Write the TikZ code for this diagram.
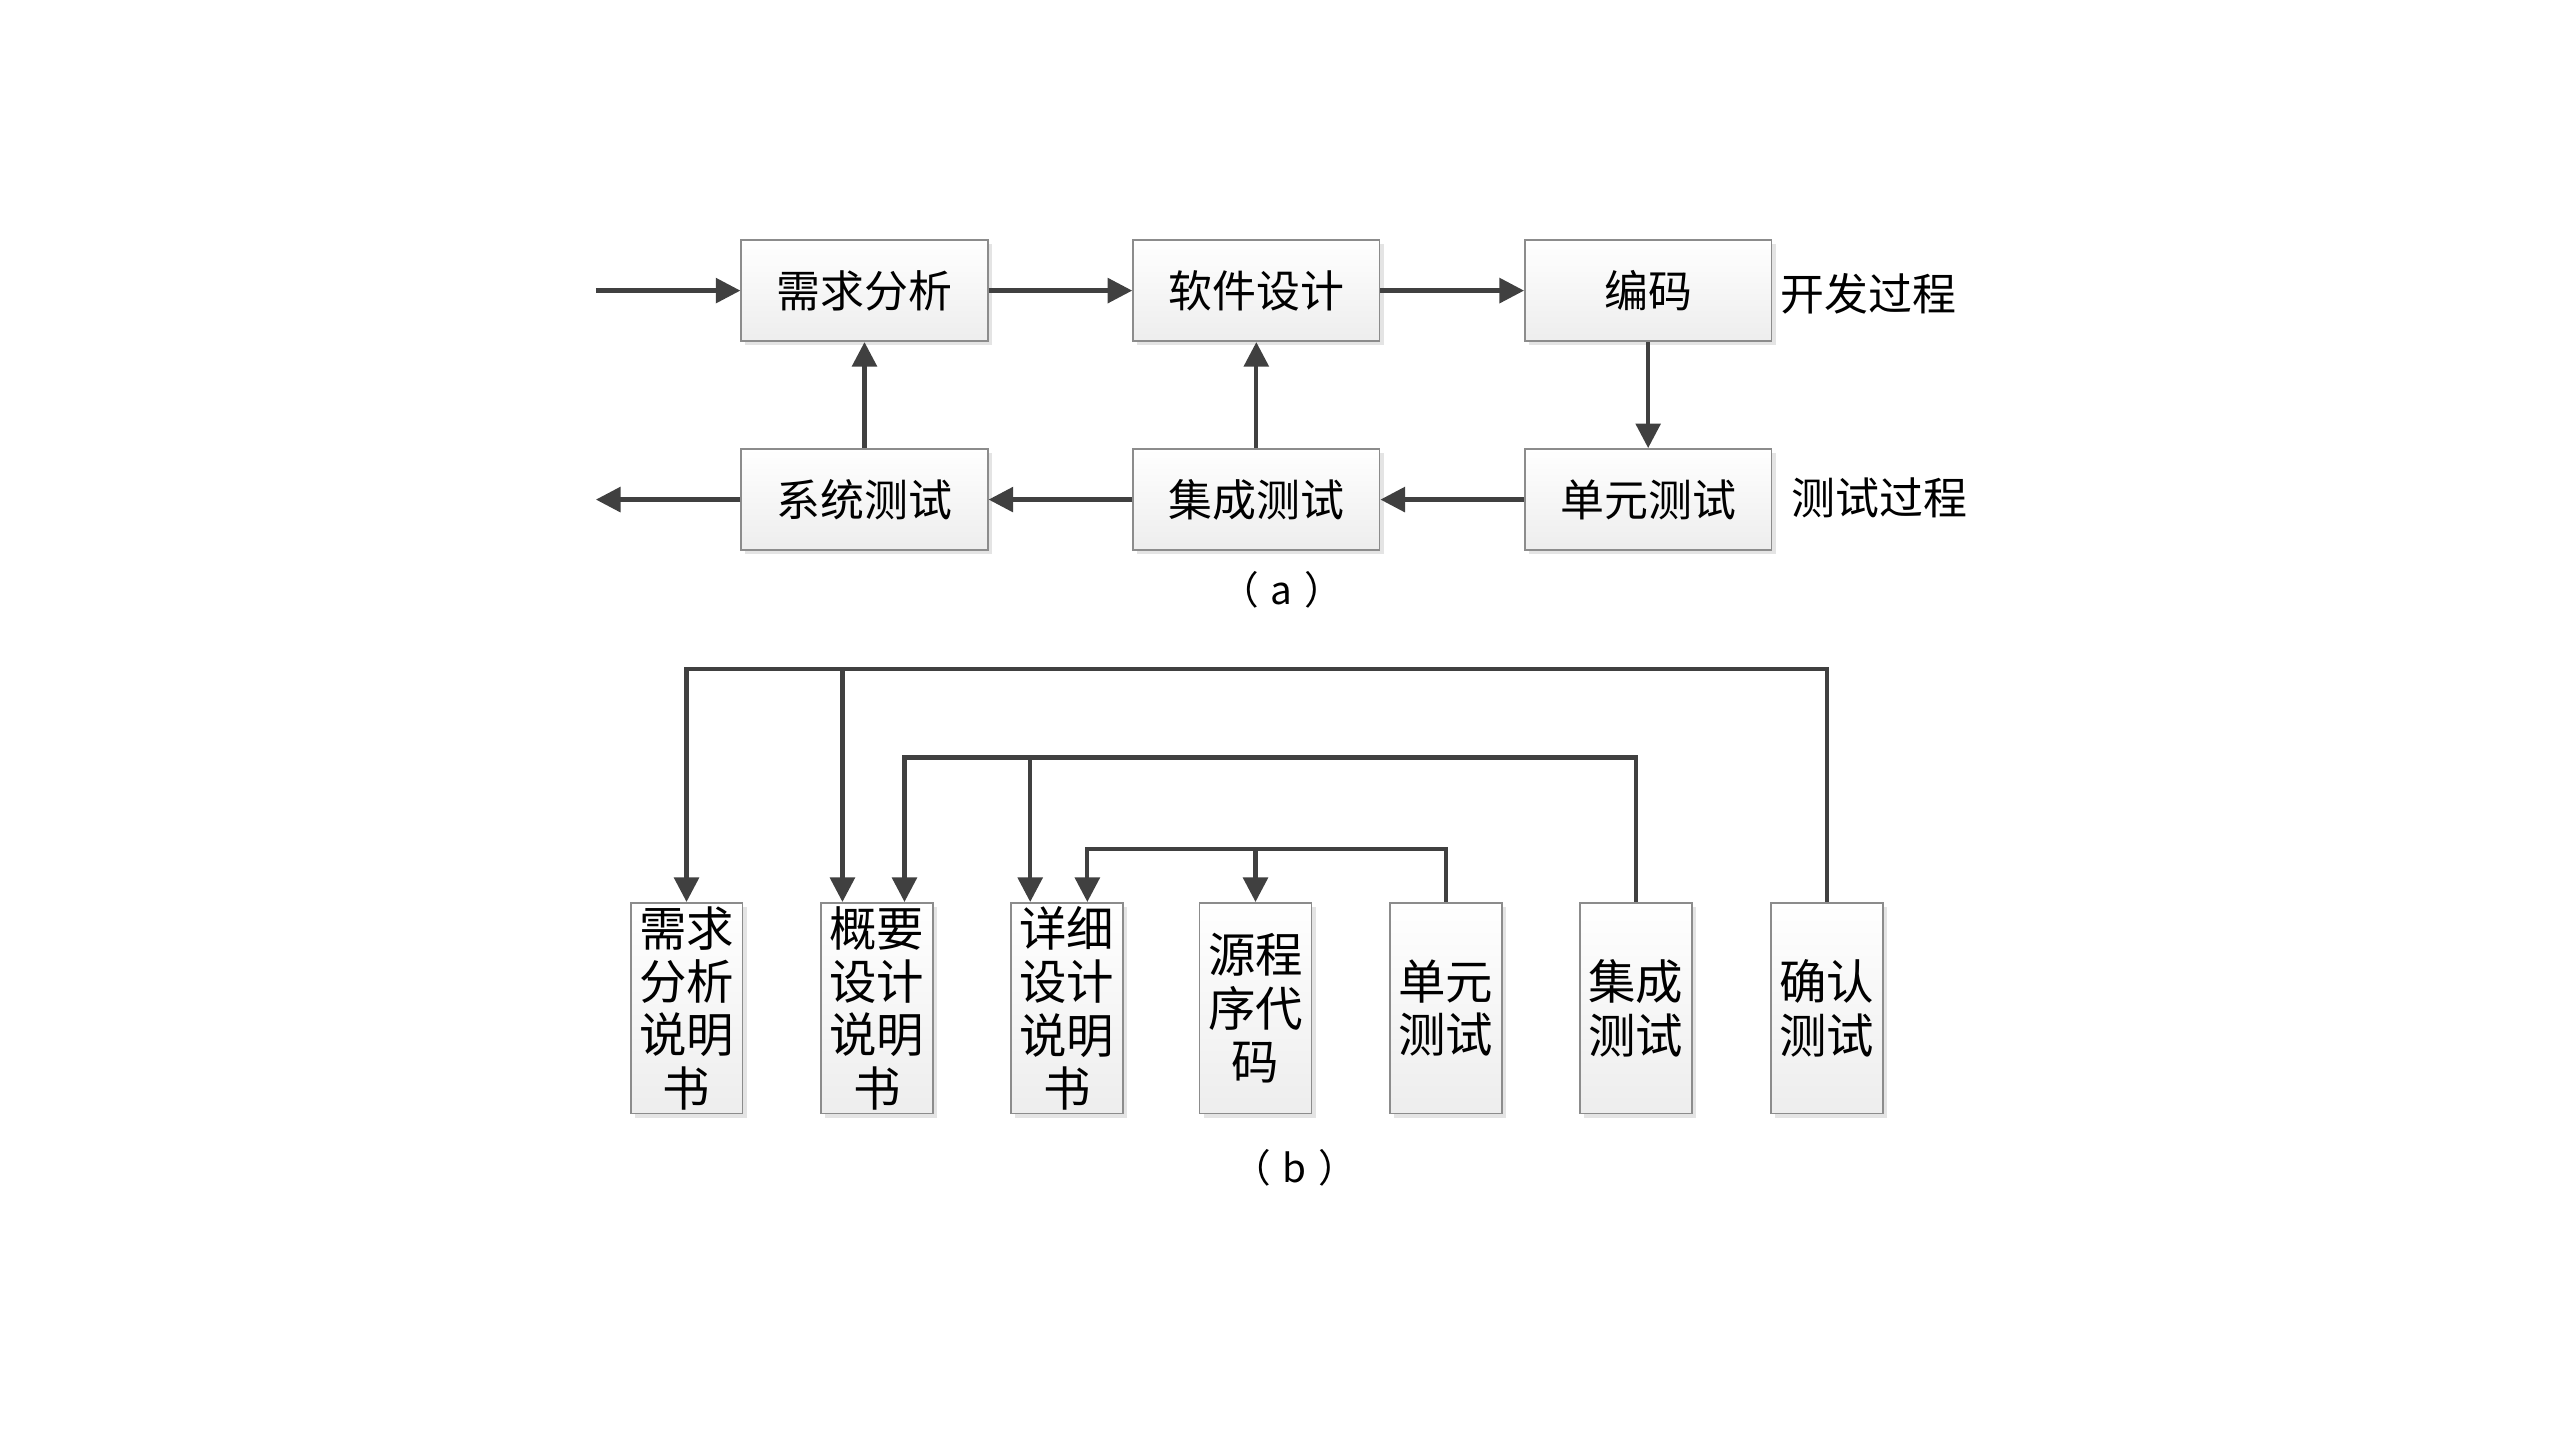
\documentclass[tikz,border=0pt]{standalone}
\usepackage{fontspec}
\setmainfont{Noto Sans CJK SC}
\usetikzlibrary{arrows.meta,calc,positioning,shadows}
\definecolor{flow}{HTML}{404040}
\definecolor{frame}{HTML}{8C8C8C}
\tikzset{>={Triangle[length=7pt,width=7pt]},
  every node/.style={font=\fontsize{12.5}{15}\selectfont},
  conn/.style={draw=flow,line width=1.2pt},
  stepbox/.style={draw=frame,line width=.5pt,top color=white,bottom color=gray!14,
    drop shadow={shadow xshift=1.2pt,shadow yshift=-1.2pt,fill=gray!35,opacity=.6},
    minimum width=2.465cm,minimum height=1.012cm,inner sep=0pt},
  docbox/.style={stepbox,minimum width=1.118cm,minimum height=2.106cm,align=center,
    font=\fontsize{13.5}{15.2}\selectfont},
  sublabel/.style={font=\fontsize{11}{13}\selectfont}}
\begin{document}
\begin{tikzpicture}[x=0.016327cm,y=-0.016327cm]
\useasboundingbox (0,0) rectangle (1568,882);
% (a) development and test process
\node[stepbox] (xq) at (529.5,178) {需求分析};
\node[stepbox] (rj) at (769.5,178) {软件设计};
\node[stepbox] (bm) at (1009.5,178) {编码};
\node[stepbox] (xt) at (529.5,306) {系统测试};
\node[stepbox] (jc) at (769.5,306) {集成测试};
\node[stepbox] (dy) at (1009.5,306) {单元测试};
\coordinate (in) at (365,178);\coordinate (out) at (365,306);
\node[anchor=west,inner sep=0pt] (kf) at (1090,180) {开发过程};
\node[anchor=west,inner sep=0pt] (cs) at (1097,305) {测试过程};
\node[sublabel] (ca) at (785,361) {（\hspace{.3em}a\hspace{.3em}）};
\draw[->,conn] (in)--(xq);\draw[->,conn] (xq)--(rj);\draw[->,conn] (rj)--(bm);\draw[->,conn] (bm)--(dy);
\draw[->,conn] (dy)--(jc);\draw[->,conn] (jc)--(xt);\draw[->,conn] (xt)--(out);
\draw[->,conn] (xt)--(xq);\draw[->,conn] (jc)--(rj);
% (b) documents and tests
\node[docbox] (d1) at (420.5,617.5) {需求\\分析\\说明\\书};
\node[docbox] (d2) at (537,617.5) {概要\\设计\\说明\\书};
\node[docbox] (d3) at (653.5,617.5) {详细\\设计\\说明\\书};
\node[docbox] (d4) at (769,617.5) {源程\\序代\\码};
\node[docbox] (d5) at (885.5,617.5) {单元\\测试};
\node[docbox] (d6) at (1002,617.5) {集成\\测试};
\node[docbox] (d7) at (1119,617.5) {确认\\测试};
\node[sublabel] (cb) at (793,715) {（\hspace{.3em}b\hspace{.3em}）};
\coordinate (h1) at (420.5,410);\coordinate (h2) at (554,464);\coordinate (h3) at (666,520);
\coordinate (e2a) at ($(d2.north)+(-21,0)$);\coordinate (e2b) at ($(d2.north)+(17,0)$);
\coordinate (e3a) at ($(d3.north)+(-22.5,0)$);\coordinate (e3b) at ($(d3.north)+(12.5,0)$);
\draw[->,conn] (d7.north) |- (h1) -- (d1.north);\draw[->,conn] (e2a |- h1)--(e2a);
\draw[->,conn] (d6.north) |- (e2b |- h2) -- (e2b);\draw[->,conn] (e3a |- h2)--(e3a);
\draw[->,conn] (d5.north) |- (e3b |- h3) -- (e3b);\draw[->,conn] (d4.north |- h3)--(d4.north);
\end{tikzpicture}
\end{document}
